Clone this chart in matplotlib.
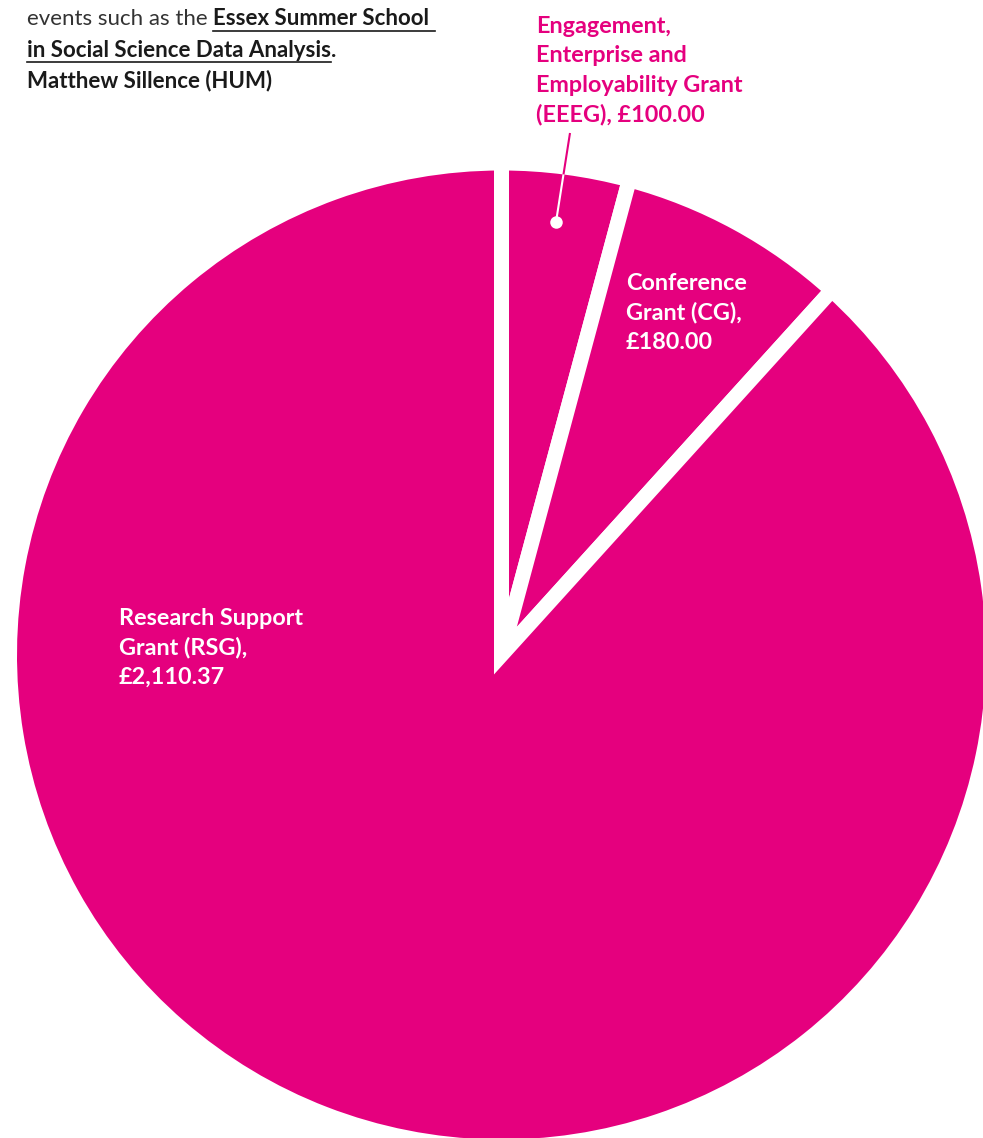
import numpy as np
import matplotlib
matplotlib.use('Agg')
import matplotlib.pyplot as plt

W, H = 983, 1138

# grant values (GBP)
grants = ['EEEG', 'CG', 'RSG']
amounts = [100.00, 180.00, 2110.37]

eeeg_lines = ['Engagement,', 'Enterprise and', 'Employability Grant', '(EEEG), £100.00']
cg_lines = ['Conference', 'Grant (CG),', '£180.00']
rsg_lines = ['Research Support', 'Grant (RSG),', '£2,110.37']

pink = '#E5007E'
ink = '#1a1a1a'

fig = plt.figure(figsize=(W / 100, H / 100), dpi=100)
ax = fig.add_axes([0, 0, 1, 1])


def Y(py):
    # pixel row -> data y
    return H - py


cx, cy, r = 501.5, Y(655), 492

ax.pie(amounts, startangle=90, counterclock=False, colors=[pink] * 3,
       radius=r, center=(cx, cy),
       wedgeprops=dict(edgecolor='white', linewidth=15 * 0.72, joinstyle='miter'))
ax.set_xlim(0, W)
ax.set_ylim(0, H)
ax.set_aspect('equal')
ax.axis('off')

# header text (cut from a page above)
hs = 16
t1 = ax.text(27, Y(25), 'events such as the ', fontsize=hs, family='Lato',
             weight='normal', color='#333333', va='baseline')
fig.canvas.draw()
rend = fig.canvas.get_renderer()
bb = t1.get_window_extent(rend)
t2 = ax.text(bb.x1, Y(25), 'Essex Summer School ', fontsize=hs, family='Lato',
             weight='bold', color=ink, va='baseline')
t3 = ax.text(27, Y(57), 'in Social Science Data Analysis', fontsize=hs, family='Lato',
             weight='bold', color=ink, va='baseline')
fig.canvas.draw()
bb2 = t2.get_window_extent(rend)
bb3 = t3.get_window_extent(rend)
ax.text(bb3.x1, Y(57), '.', fontsize=hs, family='Lato', weight='bold',
        color=ink, va='baseline')
ax.plot([bb2.x0, bb2.x1], [Y(31), Y(31)], color=ink, lw=1.2)
ax.plot([bb3.x0, bb3.x1], [Y(62), Y(62)], color=ink, lw=1.2)
ax.text(27, Y(87), 'Matthew Sillence (HUM)', fontsize=16, family='Lato',
        weight='bold', color=ink, va='baseline')

# slice labels
ls = 16.8
for i, line in enumerate(eeeg_lines):
    ax.text(536, Y(33 + 29.3 * i), line, fontsize=ls, family='Lato',
            weight='bold', color=pink, va='baseline')
for i, line in enumerate(cg_lines):
    ax.text(626, Y(290 + 29.5 * i), line, fontsize=ls, family='Lato',
            weight='bold', color='white', va='baseline')
for i, line in enumerate(rsg_lines):
    ax.text(119, Y(625 + 29.5 * i), line, fontsize=ls, family='Lato',
            weight='bold', color='white', va='baseline')

# leader line for the EEEG slice: pink outside the pie, white inside
x0, y0 = 570, Y(133)
x1, y1 = 556, Y(222)
ts = np.linspace(0, 1, 400)
xs = x0 + (x1 - x0) * ts
ys = y0 + (y1 - y0) * ts
inside = np.hypot(xs - cx, ys - cy) < r - 7.5
k = np.argmax(inside)
ax.plot(xs[:k + 1], ys[:k + 1], color=pink, lw=1.5, solid_capstyle='butt')
ax.plot(xs[k:], ys[k:], color='white', lw=1.5, solid_capstyle='butt')
ax.plot([x1], [y1], 'o', color='white', markersize=9, markeredgewidth=0)

fig.savefig('out.png', dpi=100)
